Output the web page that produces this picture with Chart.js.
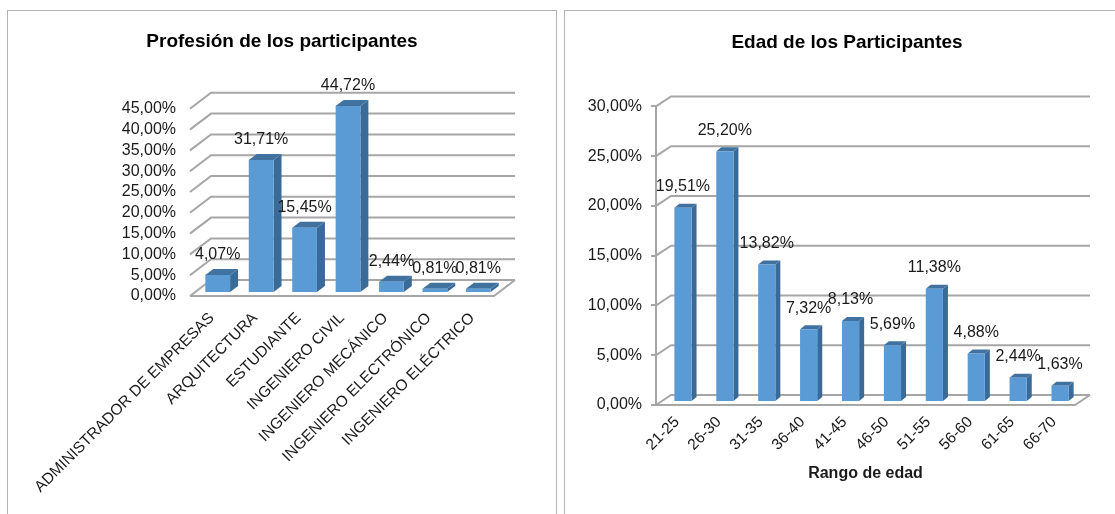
<!DOCTYPE html>
<html>
<head>
<meta charset="utf-8">
<script src="https://cdn.jsdelivr.net/npm/chart.js@4/dist/chart.umd.js"></script>
<style>
    html, body { margin: 0; padding: 0; background: #fff; overflow: hidden; }
    .panel { position: absolute; top: 10px; height: 504px; border: solid #b3b3b3; border-width: 1.5px 1.5px 0 1.5px; }
    #panelProfesion { left: 7px; width: 548px; }
    #panelEdad { left: 564px; width: 564px; }
</style>
</head>
<body>
<div class="panel" id="panelProfesion"><canvas id="chartProfesion"></canvas></div>
<div class="panel" id="panelEdad"><canvas id="chartEdad"></canvas></div>

<script>
// Data
var profesionLabels = ['ADMINISTRADOR DE EMPRESAS', 'ARQUITECTURA', 'ESTUDIANTE', 'INGENIERO CIVIL',
    'INGENIERO MECÁNICO', 'INGENIERO ELECTRÓNICO', 'INGENIERO ELÉCTRICO'];
var profesionValues = [4.07, 31.71, 15.45, 44.72, 2.44, 0.81, 0.81];

var edadLabels = ['21-25', '26-30', '31-35', '36-40', '41-45', '46-50', '51-55', '56-60', '61-65', '66-70'];
var edadValues = [19.51, 25.20, 13.82, 7.32, 8.13, 5.69, 11.38, 4.88, 2.44, 1.63];

var FONT = '"Liberation Sans", Arial, sans-serif';
var TEXT = '#1a1a1a';
var GRID = '#a6a6a6';

function percent(v) {
    return Number(v).toFixed(2).replace('.', ',') + '%';
}

// Fake 3D look: back wall grid and floor, bar sides and tops, value labels
var depth3d = {
    id: 'depth3d',
    beforeDatasetsDraw: function (chart, args, opts) {
        var ctx = chart.ctx, area = chart.chartArea, y = chart.scales.y;
        ctx.save();
        ctx.strokeStyle = GRID;
        ctx.lineWidth = 2;
        y.ticks.forEach(function (t) {
            var py = y.getPixelForValue(t.value);
            ctx.beginPath();
            ctx.moveTo(area.left, py);
            ctx.lineTo(area.left + opts.dx, py - opts.dy);
            ctx.lineTo(area.right + opts.dx, py - opts.dy);
            ctx.stroke();
        });
        // floor
        var y0 = y.getPixelForValue(0);
        ctx.beginPath();
        ctx.moveTo(area.left, y0);
        ctx.lineTo(area.right, y0);
        ctx.lineTo(area.right + opts.dx, y0 - opts.dy);
        ctx.stroke();
        ctx.restore();

        // bars stand in the middle of the floor
        ctx.save();
        ctx.translate(opts.shiftX, -opts.shiftY);
        chart.getDatasetMeta(0).data.forEach(function (bar) {
            var p = bar.getProps(['x', 'y', 'base', 'width'], true);
            var l = p.x - p.width / 2, r = p.x + p.width / 2;
            ctx.fillStyle = '#3a6a97';
            ctx.beginPath();
            ctx.moveTo(r, p.y);
            ctx.lineTo(r + opts.barDx, p.y - opts.barDy);
            ctx.lineTo(r + opts.barDx, p.base - opts.barDy);
            ctx.lineTo(r, p.base);
            ctx.closePath();
            ctx.fill();
            ctx.fillStyle = '#41729f';
            ctx.beginPath();
            ctx.moveTo(l, p.y);
            ctx.lineTo(l + opts.barDx, p.y - opts.barDy);
            ctx.lineTo(r + opts.barDx, p.y - opts.barDy);
            ctx.lineTo(r, p.y);
            ctx.closePath();
            ctx.fill();
        });
    },
    afterDatasetsDraw: function (chart, args, opts) {
        var ctx = chart.ctx;
        ctx.fillStyle = TEXT;
        ctx.font = opts.labelSize + 'px ' + FONT;
        ctx.textAlign = 'center';
        ctx.textBaseline = 'middle';
        var values = chart.data.datasets[0].data;
        chart.getDatasetMeta(0).data.forEach(function (bar, i) {
            ctx.fillText(percent(values[i]), bar.x, bar.y - opts.labelGap);
        });
        ctx.restore();
    }
};

function makeChart(id, labels, values, o) {
    var xScale = {
        offset: true,
        grid: { display: false },
        border: { display: false },
        ticks: {
            autoSkip: false, minRotation: 45, maxRotation: 45,
            padding: o.xTickPadding, color: TEXT,
            font: { family: FONT, size: o.xTickSize }
        },
        afterFit: function (scale) { scale.height = o.xHeight; }
    };
    if (o.xTitle) {
        xScale.title = {
            display: true, text: o.xTitle, color: TEXT,
            font: { family: FONT, size: 16, weight: 'bold' },
            padding: { top: 0, bottom: o.xTitleBottom }
        };
    }
    return new Chart(document.getElementById(id), {
        type: 'bar',
        data: {
            labels: labels,
            datasets: [{
                data: values,
                backgroundColor: '#5b9bd5',
                barPercentage: o.barPercentage,
                categoryPercentage: 1
            }]
        },
        options: {
            responsive: false,
            animation: false,
            plugins: {
                legend: { display: false },
                tooltip: { enabled: false },
                title: {
                    display: true, text: o.title, color: '#000',
                    font: { family: FONT, size: 19, weight: 'bold', lineHeight: 1.2 },
                    padding: { top: o.titleTop, bottom: o.titleBottom }
                },
                depth3d: o.depth
            },
            scales: {
                x: xScale,
                y: {
                    min: 0, max: o.yMax,
                    grid: { display: o.yAxisLine, drawOnChartArea: false, drawTicks: o.yAxisLine, tickLength: 5, color: GRID, lineWidth: 2 },
                    border: { display: o.yAxisLine, color: GRID, width: 2 },
                    ticks: {
                        stepSize: 5, autoSkip: false, padding: o.yTickPadding, color: TEXT,
                        font: { family: FONT, size: o.yTickSize },
                        callback: percent
                    },
                    afterFit: function (scale) { scale.width = o.yWidth; }
                },
                // empty axis, only keeps room on the right for the 3D depth
                rightGap: {
                    position: 'right', type: 'linear',
                    grid: { display: false },
                    border: { display: false },
                    ticks: { display: false },
                    afterFit: function (scale) { scale.width = o.rightWidth; }
                }
            }
        },
        plugins: [depth3d]
    });
}

function sizeCanvas(id, w, h) {
    var c = document.getElementById(id);
    c.width = w; c.height = h;
    c.style.width = w + 'px'; c.style.height = h + 'px';
}

sizeCanvas('chartProfesion', 548, 504);
sizeCanvas('chartEdad', 564, 504);

// Left chart
makeChart('chartProfesion', profesionLabels, profesionValues, {
    title: 'Profesión de los participantes',
    titleTop: 19, titleBottom: 56,
    yMax: 45, yWidth: 182, yTickPadding: 14, yTickSize: 16, yAxisLine: false,
    xHeight: 219, xTickPadding: 5, xTickSize: 15.5, rightWidth: 62,
    barPercentage: 0.57,
    depth: { dx: 21, dy: 16, barDx: 8, barDy: 6, shiftX: 6, shiftY: 4, labelGap: 20, labelSize: 16 }
});

// Right chart
makeChart('chartEdad', edadLabels, edadValues, {
    title: 'Edad de los Participantes',
    titleTop: 20, titleBottom: 52.6,
    yMax: 30, yWidth: 91, yTickPadding: 9, yTickSize: 16, yAxisLine: true,
    xHeight: 110, xTickPadding: 0, xTickSize: 15.5, rightWidth: 54,
    xTitle: 'Rango de edad', xTitleBottom: 32,
    barPercentage: 0.41,
    depth: { dx: 15, dy: 10, barDx: 5, barDy: 4, shiftX: 6, shiftY: 3, labelGap: 21, labelSize: 16 }
});
</script>
</body>
</html>
